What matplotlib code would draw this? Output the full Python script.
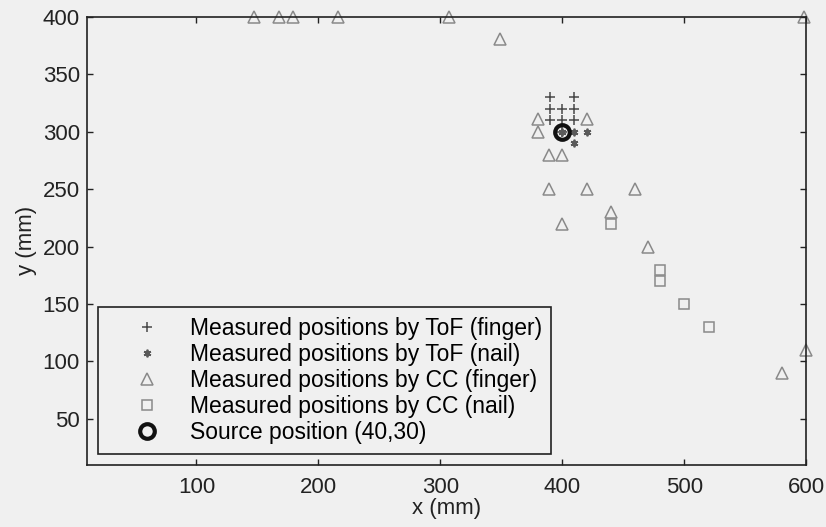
import matplotlib
matplotlib.use('Agg')
import matplotlib.pyplot as plt

# ToF (finger)
tof_finger_x = [390, 410, 390, 400, 410, 390, 400, 410, 400]
tof_finger_y = [330, 330, 320, 320, 320, 310, 310, 310, 300]
# ToF (nail)
tof_nail_x = [410, 420, 410, 400]
tof_nail_y = [300, 300, 290, 300]
# CC (finger), values beyond 400 sit on the top edge
cc_finger_x = [147, 168, 179, 216, 307, 598, 349, 380, 380, 420,
               389, 400, 389, 420, 400, 440, 460, 470, 580, 600]
cc_finger_y = [400, 400, 400, 400, 400, 400, 381, 311, 300, 311,
               280, 280, 250, 250, 220, 230, 250, 200, 90, 110]
# CC (nail)
cc_nail_x = [440, 480, 480, 500, 520]
cc_nail_y = [220, 180, 170, 150, 130]
# source
src_x = [400]
src_y = [300]

bg = '#f0f0f0'
ink = '#222222'
plt.rcParams['font.family'] = ['Liberation Sans', 'DejaVu Sans']

fig = plt.figure(figsize=(8.26, 5.27), dpi=100, facecolor=bg)
ax = fig.add_axes([0.105, 0.118, 0.871, 0.850], facecolor=bg)

ax.plot(tof_finger_x, tof_finger_y, '+', color='#484848', ms=6.5, mew=1.1,
        ls='none', label='Measured positions by ToF (finger)', clip_on=False)
ax.plot(tof_nail_x, tof_nail_y, marker=(6, 2, 0), color='#5a5a5a', ms=5.5, mew=1.3,
        ls='none', label='Measured positions by ToF (nail)', clip_on=False)
ax.plot(cc_finger_x, cc_finger_y, '^', mfc='none', mec='#8a8a8a', ms=9,
        mew=1.1, ls='none', label='Measured positions by CC (finger)', clip_on=False)
ax.plot(cc_nail_x, cc_nail_y, 's', mfc='none', mec='#8a8a8a', ms=7,
        mew=1.1, ls='none', label='Measured positions by CC (nail)', clip_on=False)
ax.plot(src_x, src_y, 'o', mfc='none', mec='#111111', ms=10.5, mew=3,
        ls='none', label='Source position (40,30)', clip_on=False)

ax.set_xlim(10, 600)
ax.set_ylim(10, 400)
ax.set_xticks([100, 200, 300, 400, 500, 600])
ax.set_yticks([50, 100, 150, 200, 250, 300, 350, 400])
ax.tick_params(direction='in', top=True, right=True, length=4, width=1,
               labelsize=16, colors=ink)
ax.tick_params(axis='x', pad=9)
ax.tick_params(axis='y', pad=5)
for s in ax.spines.values():
    s.set_linewidth(1.2)
    s.set_color(ink)
ax.set_xlabel('x (mm)', fontsize=16, color=ink, labelpad=0)
ax.set_ylabel('y (mm)', fontsize=16, color=ink, labelpad=4)

leg = ax.legend(loc='lower left', bbox_to_anchor=(0.015, 0.025), fontsize=16.5,
                fancybox=False, edgecolor=ink, facecolor=bg, framealpha=1,
                labelspacing=0.14, handletextpad=0.13, borderpad=0.4,
                handlelength=3.5, borderaxespad=0.0)
leg.get_frame().set_linewidth(1.2)

plt.savefig('out.png', dpi=100, facecolor=bg)
